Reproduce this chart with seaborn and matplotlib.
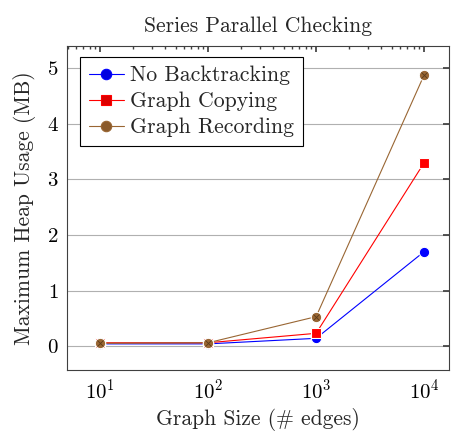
import matplotlib
matplotlib.use("Agg")
import matplotlib.pyplot as plt
import seaborn as sns
import pandas as pd

sizes = [10, 100, 1000, 10000]
no_backtracking = [0.04, 0.04, 0.14, 1.70]
graph_copying = [0.06, 0.06, 0.23, 3.30]
graph_recording = [0.05, 0.06, 0.53, 4.88]
series_names = ["No Backtracking", "Graph Copying", "Graph Recording"]

rows = []
for name, vals in zip(series_names, [no_backtracking, graph_copying, graph_recording]):
    for s, v in zip(sizes, vals):
        rows.append({"size": s, "heap": v, "series": name})
df = pd.DataFrame(rows)

sns.set_theme(style="white")
plt.rcParams["font.family"] = "serif"
plt.rcParams["font.serif"] = ["cmr10", "DejaVu Serif"]
plt.rcParams["mathtext.fontset"] = "cm"
plt.rcParams["axes.formatter.use_mathtext"] = True

fig = plt.figure(figsize=(4.52, 4.32), dpi=100)
ax = fig.add_axes([67/452, 1-370/432, (449-67)/452, (370-46)/432])

palette = {"No Backtracking": "#0000ff", "Graph Copying": "#ff0000", "Graph Recording": "#996633"}
markers = {"No Backtracking": "o", "Graph Copying": "s", "Graph Recording": "o"}
sns.lineplot(data=df, x="size", y="heap", hue="series", style="series",
             palette=palette, markers=markers, dashes=False, linewidth=0.8,
             markersize=7.5, markeredgewidth=0.8, ax=ax)
face = {"No Backtracking": "#0000e0", "Graph Copying": "#dd0000", "Graph Recording": "#8a5a2b"}
for line in ax.lines:
    lab = line.get_label()
    if lab in face:
        line.set_markerfacecolor(face[lab])
        line.set_markeredgecolor(palette[lab])
# the "x" inside the Graph Recording markers (otimes)
rec = df[df["series"] == "Graph Recording"]
sns.scatterplot(data=rec, x="size", y="heap", marker="x", color="#5a3a1a",
                s=18, linewidth=0.6, legend=False, ax=ax, zorder=5)

ax.set_xscale("log")
ax.set_xlim(10**0.694, 10**4.23)
ax.set_ylim(-0.43, 5.4)
ax.set_yticks([0, 1, 2, 3, 4, 5])
ax.set_xticks(sizes)
ax.yaxis.grid(True, color="#b0b0b0", linewidth=0.8)
ax.set_axisbelow(True)
for sp in ax.spines.values():
    sp.set_color("#404040")
    sp.set_linewidth(0.8)
ax.tick_params(axis="both", which="both", direction="in", top=True, right=True,
               labelsize=15, colors="#404040", labelcolor="black")
ax.tick_params(axis="both", which="major", length=4, pad=6)
ax.tick_params(axis="x", which="minor", length=2.5)
ax.set_xlabel("Graph Size (# edges)", fontsize=15.5, labelpad=4)
ax.set_ylabel("Maximum Heap Usage (MB)", fontsize=15.5, labelpad=8)
ax.set_title("Series Parallel Checking", fontsize=15.5, pad=10)

handles, labels = ax.get_legend_handles_labels()
leg = ax.legend(handles, labels, loc="upper left",
                bbox_to_anchor=(13/382, 1 - 11/324), borderaxespad=0,
                fontsize=15.7, frameon=True, fancybox=False,
                edgecolor="black", handlelength=1.6,
                borderpad=0.4, labelspacing=0.3, handletextpad=0.3)
leg.get_frame().set_linewidth(0.8)
leg.get_frame().set_alpha(1)

fig.savefig("out.png", dpi=100)
